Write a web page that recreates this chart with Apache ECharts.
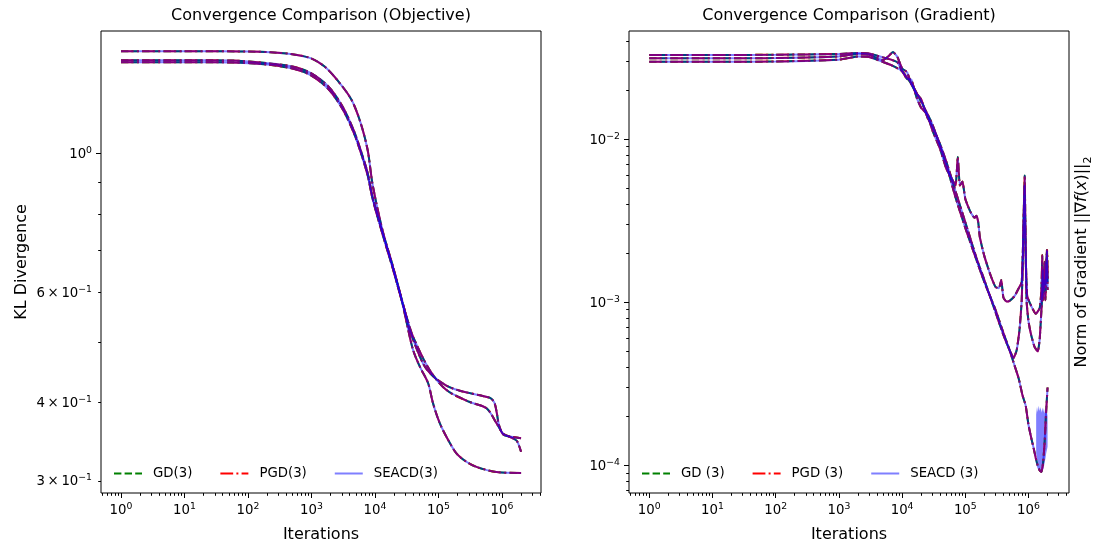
<!DOCTYPE html>
<html>
<head>
<meta charset="utf-8">
<script src="https://cdn.jsdelivr.net/npm/echarts@6/dist/echarts.min.js"></script>
<style>html,body{margin:0;padding:0;background:#fff}#c{width:1094px;height:542px}</style>
</head>
<body>
<div id="c"></div>
<script>
// ---------------- data (x = iterations, y = value) ----------------
const objRun1 = [[1,1.455],[10,1.455],[100,1.453],[226,1.449],[500,1.439],[968,1.418],[1610,1.375],[2670,1.301],[4290,1.216],[5940,1.118],[7670,1.012],[9200,0.89],[13200,0.752],[19000,0.662],[26400,0.583],[31700,0.536],[39700,0.486],[50700,0.457],[68600,0.430],[82200,0.399],[104900,0.371],[141600,0.349],[192000,0.332],[275000,0.322],[397000,0.316],[822000,0.310],[2000000,0.309]];
const objRun2 = [[1,1.407],[10,1.407],[55,1.406],[203,1.392],[500,1.375],[968,1.343],[1860,1.277],[3100,1.186],[4610,1.089],[5940,1.012],[7670,0.930],[9200,0.85],[13200,0.746],[19000,0.659],[26400,0.585],[31700,0.545],[35200,0.522],[57200,0.462],[80000,0.442],[133000,0.426],[217000,0.418],[448000,0.411],[650000,0.407],[760000,0.400],[830000,0.385],[900000,0.368],[1050000,0.356],[1400000,0.353],[2000000,0.351]];
const objRun3 = [[1,1.397],[10,1.397],[55,1.396],[203,1.385],[500,1.365],[968,1.333],[1860,1.265],[3100,1.175],[4610,1.080],[5940,1.005],[7670,0.922],[9200,0.845],[13200,0.742],[19000,0.656],[26400,0.582],[31700,0.547],[39700,0.510],[72600,0.451],[133700,0.419],[312000,0.401],[571000,0.392],[822000,0.371],[1045000,0.357],[1400000,0.352],[1700000,0.348],[1850000,0.342],[2000000,0.334]];

const gradRun1 = [[1,0.0299],[10,0.0299],[100,0.0300],[1000,0.0308],[2000,0.0322],[3000,0.0320],[5000,0.0298],[7000,0.0283],[10000,0.0262],[15000,0.0210],[20000,0.0170],[30000,0.0124],[50000,0.0070],[70000,0.0044],[100000,0.00286],[150000,0.00182],[200000,0.00133],[300000,0.00090],[400000,0.00065],[500000,0.00051],[600000,0.00041],[700000,0.00034],[800000,0.00027],[900000,0.000233],[1000000,0.000176],[1100000,0.000148],[1200000,0.000128],[1300000,0.000111],[1400000,0.000099],[1500000,0.000093],[1600000,0.000091],[1700000,0.000104],[1800000,0.000140],[1900000,0.000215],[2000000,0.00030]];
const gradRun2 = [[1,0.0314],[10,0.0314],[100,0.0315],[1000,0.0322],[2000,0.0334],[3000,0.0330],[5000,0.0306],[6000,0.0322],[7200,0.0343],[8500,0.0318],[10000,0.0272],[12000,0.0258],[14000,0.0218],[17000,0.0190],[20000,0.0176],[25000,0.0137],[30000,0.0120],[40000,0.0093],[50000,0.0073],[70000,0.0048],[100000,0.0031],[150000,0.00187],[200000,0.00137],[300000,0.00087],[400000,0.00063],[500000,0.00051],[580000,0.000455],[650000,0.00051],[720000,0.00068],[780000,0.00103],[820000,0.0021],[860000,0.0052],[890000,0.0028],[930000,0.00103],[1000000,0.00076],[1100000,0.00063],[1250000,0.00053],[1400000,0.00050],[1500000,0.00059],[1600000,0.00090],[1650000,0.00111],[1700000,0.00158],[1750000,0.00119],[1800000,0.00177],[1850000,0.00128],[1900000,0.00154],[1950000,0.00209],[2000000,0.00119]];
const gradRun3 = [[1,0.0329],[10,0.0329],[100,0.0330],[1000,0.0334],[2000,0.0338],[3000,0.0336],[5000,0.0318],[7000,0.0306],[8500,0.0296],[10000,0.0262],[12000,0.0234],[14000,0.0232],[17000,0.0180],[20000,0.0156],[25000,0.0142],[30000,0.0114],[40000,0.0087],[50000,0.0066],[60000,0.0058],[70000,0.0052],[76000,0.0078],[82000,0.0052],[90000,0.0055],[100000,0.0043],[120000,0.0036],[140000,0.0033],[150000,0.0034],[160000,0.0031],[170000,0.0025],[200000,0.00192],[250000,0.00147],[300000,0.00124],[340000,0.00122],[370000,0.00137],[400000,0.00107],[450000,0.00101],[500000,0.00102],[600000,0.00109],[700000,0.00122],[780000,0.00133],[830000,0.0028],[870000,0.0060],[900000,0.0021],[950000,0.00110],[1100000,0.00095],[1300000,0.00085],[1500000,0.00092],[1600000,0.00120],[1650000,0.00195],[1700000,0.00103],[1780000,0.00137],[1850000,0.00103],[1920000,0.00177],[1970000,0.00209],[2000000,0.00133]];

// SEACD oscillation envelope (shaded) near the end of run 1
const gradBandLow  = [[1320000,0.000118],[1360000,0.000110],[1400000,0.000104],[1450000,0.000098],[1500000,0.000094],[1550000,0.000091],[1600000,0.000090],[1650000,0.000091],[1700000,0.000094],[1750000,0.000098],[1800000,0.000104],[1850000,0.000110],[1900000,0.000118],[1950000,0.000124],[2000000,0.000130]];
const gradBandHigh = [[1320000,0.000205],[1360000,0.000228],[1400000,0.000212],[1450000,0.000232],[1500000,0.000215],[1550000,0.000228],[1600000,0.000210],[1650000,0.000226],[1700000,0.000212],[1750000,0.000224],[1800000,0.000208],[1850000,0.000220],[1900000,0.000206],[1950000,0.000214],[2000000,0.000200]];

// legend names
const objNames  = ['GD(3)', 'PGD(3)', 'SEACD(3)'];
const gradNames = ['GD (3)', 'PGD (3)', 'SEACD (3)'];

// tick values
const xMajorTicks = [1, 10, 100, 1000, 10000, 100000, 1000000];
const objYMajorTicks = [1];
const objYLabelTicks = [0.3, 0.4, 0.6, 1];
const gradYMajorTicks = [0.0001, 0.001, 0.01];

// axis ranges
const objXRange = [0.4842, 4.121e6];
const gradXRange = [0.4786, 4.365e6];
const objYRange = [0.28707, 1.5669];
const gradYRange = [6.761e-5, 0.04617];

// ---------------- helpers ----------------
const FONT = 'DejaVu Sans';
const L = Math.log10;
function minorTicks(lo, hi) {
  const out = [];
  for (let e = Math.floor(L(lo)) - 1; e <= Math.ceil(L(hi)); e++) {
    for (let k = 2; k <= 9; k++) {
      const v = k * Math.pow(10, e);
      if (v >= lo && v <= hi) out.push(v);
    }
  }
  return out;
}
const rich = {
  b: {fontFamily: FONT, fontSize: 13.3, color: '#000', verticalAlign: 'bottom', lineHeight: 15},
  e: {fontFamily: FONT, fontSize: 9.3, color: '#000', verticalAlign: 'bottom', lineHeight: 10, padding: [0, 0, 6, 0]}
};
function powLabel(v) {
  const e = Math.floor(v + 1e-9);
  const m = Math.round(Math.pow(10, v - e));
  const es = e < 0 ? '\u2212' + (-e) : String(e);
  return (m === 1 ? '{b|10}' : '{b|' + m + '\u2009\u00d7\u200910}') + '{e|' + es + '}';
}
const tickLine = {color: '#000', width: 1};
function dataAxis(type, grid, range) {
  return {type: 'log', logBase: 10, gridIndex: grid, min: range[0], max: range[1], show: false};
}
function tickAxis(grid, range, ticks, labels, len, pos, extra) {
  const ax = {
    type: 'value', gridIndex: grid, min: L(range[0]), max: L(range[1]), position: pos,
    axisLine: {show: false, onZero: false}, splitLine: {show: false},
    axisTick: {show: true, length: len, lineStyle: tickLine, customValues: ticks.map(L)},
    axisLabel: labels ? {show: true, customValues: labels.map(L), formatter: powLabel, rich: rich, margin: 9, color: '#000'} : {show: false}
  };
  return Object.assign(ax, extra || {});
}

const styleGD = {color: '#008000', lineStyle: {color: '#008000', width: 2, type: [7.4, 3.2]}};
const stylePGD = {color: '#ff0000', lineStyle: {color: '#ff0000', width: 2, type: [12.8, 3.2, 2, 3.2]}};
const styleSE = {color: '#0000ff', lineStyle: {color: '#0000ff', width: 2, opacity: 0.5}};
function line(name, data, st, xi, yi, smooth) {
  return Object.assign({
    type: 'line', name: name, data: data, xAxisIndex: xi, yAxisIndex: yi,
    symbol: 'none', showSymbol: false, smooth: smooth, animation: false,
    emphasis: {disabled: true}, silent: true
  }, st);
}

const series = [];
const objRuns = [objRun1, objRun2, objRun3];
const gradRuns = [gradRun1, gradRun2, gradRun3];
[styleGD, stylePGD, styleSE].forEach((st, i) => {
  objRuns.forEach(r => series.push(line(objNames[i], r, st, 0, 0, 0.3)));
});
[styleGD, stylePGD].forEach((st, i) => {
  gradRuns.forEach(r => series.push(line(gradNames[i], r, st, 1, 1, 0.15)));
});
// shaded SEACD oscillation band (filled between low and high envelopes)
series.push({
  type: 'custom', name: 'SEACD band', xAxisIndex: 1, yAxisIndex: 1, silent: true, animation: false,
  data: gradBandLow.map((p, i) => [p[0], p[1], gradBandHigh[i][1]]),
  encode: {x: 0, y: [1, 2]},
  renderItem: function (params, api) {
    if (params.dataIndexInside !== 0) return null;
    const n = params.dataInsideLength;
    const top = [], bot = [];
    for (let j = 0; j < n; j++) {
      top.push(api.coord([api.value(0, j), api.value(2, j)]));
      bot.push(api.coord([api.value(0, j), api.value(1, j)]));
    }
    return {type: 'polygon', shape: {points: top.concat(bot.reverse())}, style: {fill: 'rgba(0,0,255,0.5)'}};
  }
});
gradRuns.forEach(r => series.push(line(gradNames[2], r, styleSE, 1, 1, 0.15)));

function legendCfg(names, left) {
  return {data: names, left: left, top: 467, orient: 'horizontal', itemWidth: 28, itemHeight: 14, itemGap: 27,
    padding: 0, selectedMode: false, itemStyle: {opacity: 0},
    textStyle: {fontFamily: FONT, fontSize: 13.3, color: '#000', padding: [0, 0, 0, 6]}};
}
const titleStyle = {fontFamily: FONT, fontSize: 16, fontWeight: 'normal', color: '#000'};
const nameStyle = {fontFamily: FONT, fontSize: 16, color: '#000'};

const option = {
  animation: false,
  backgroundColor: '#fff',
  textStyle: {fontFamily: FONT, color: '#000'},
  title: [
    {text: 'Convergence Comparison (Objective)', left: 321, top: 8, textAlign: 'center', padding: 0, textStyle: titleStyle},
    {text: 'Convergence Comparison (Gradient)', left: 849, top: 8, textAlign: 'center', padding: 0, textStyle: titleStyle}
  ],
  grid: [
    {left: 101, top: 31, width: 440, height: 462, show: true, borderColor: '#000', borderWidth: 1, backgroundColor: 'rgba(0,0,0,0)', containLabel: false, outerBoundsMode: 'none'},
    {left: 629, top: 31, width: 440, height: 462, show: true, borderColor: '#000', borderWidth: 1, backgroundColor: 'rgba(0,0,0,0)', containLabel: false, outerBoundsMode: 'none'}
  ],
  legend: [legendCfg(objNames, 113), legendCfg(gradNames, 641)],
  xAxis: [
    dataAxis('log', 0, objXRange),
    dataAxis('log', 1, gradXRange),
    tickAxis(0, objXRange, xMajorTicks, xMajorTicks, 5, 'bottom', {name: 'Iterations', nameLocation: 'middle', nameGap: 34, nameTextStyle: nameStyle}),
    tickAxis(0, objXRange, minorTicks(objXRange[0], objXRange[1]), null, 2.8, 'bottom'),
    tickAxis(1, gradXRange, xMajorTicks, xMajorTicks, 5, 'bottom', {name: 'Iterations', nameLocation: 'middle', nameGap: 34, nameTextStyle: nameStyle}),
    tickAxis(1, gradXRange, minorTicks(gradXRange[0], gradXRange[1]), null, 2.8, 'bottom')
  ],
  yAxis: [
    dataAxis('log', 0, objYRange),
    dataAxis('log', 1, gradYRange),
    tickAxis(0, objYRange, objYMajorTicks, objYLabelTicks, 5, 'left', {name: 'KL Divergence', nameLocation: 'middle', nameGap: 71, nameTextStyle: nameStyle}),
    tickAxis(0, objYRange, minorTicks(objYRange[0], objYRange[1]), null, 2.8, 'left'),
    tickAxis(1, gradYRange, gradYMajorTicks, gradYMajorTicks, 5, 'left'),
    tickAxis(1, gradYRange, minorTicks(gradYRange[0], gradYRange[1]), null, 2.8, 'left'),
    {type: 'value', gridIndex: 1, position: 'right', min: L(gradYRange[0]), max: L(gradYRange[1]),
      axisLine: {show: false, onZero: false}, axisTick: {show: false}, axisLabel: {show: false}, splitLine: {show: false},
      name: '{n|Norm of Gradient ||\u2207}{i|f}{n|(}{i|x}{n|)||}{s|2}', nameLocation: 'middle', nameGap: 5, nameRotate: 90,
      nameTextStyle: {fontFamily: FONT, fontSize: 16, color: '#000', rich: {
        n: {fontFamily: FONT, fontSize: 16, color: '#000', verticalAlign: 'top', lineHeight: 18},
        i: {fontFamily: FONT, fontSize: 16, fontStyle: 'italic', color: '#000', verticalAlign: 'top', lineHeight: 18},
        s: {fontFamily: FONT, fontSize: 11, color: '#000', verticalAlign: 'top', lineHeight: 11, padding: [9, 0, 0, 0]}
      }}}
  ],
  series: series
};

const chart = echarts.init(document.getElementById('c'), null, {renderer: 'canvas', width: 1094, height: 542});
chart.setOption(option);
</script>
</body>
</html>
